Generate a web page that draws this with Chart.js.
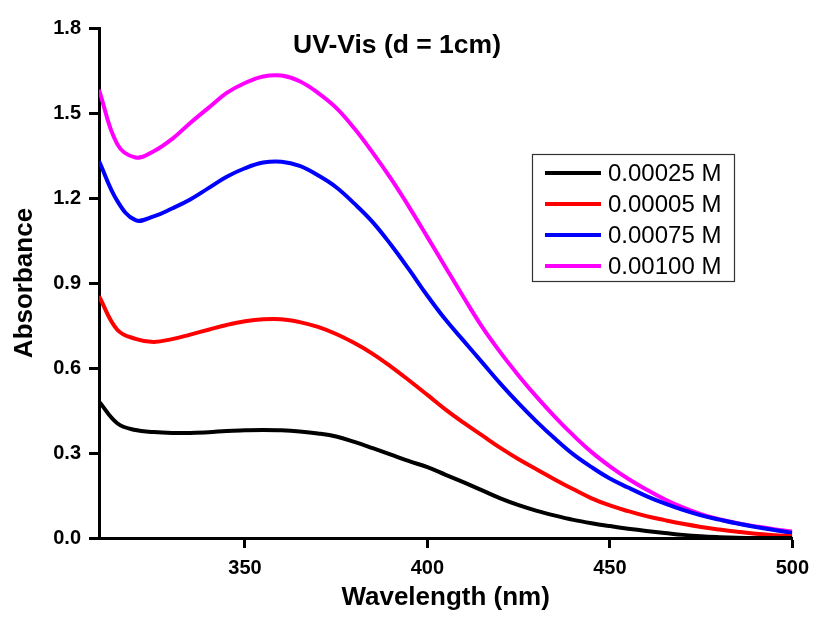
<!DOCTYPE html>
<html>
<head>
<meta charset="utf-8">
<title>UV-Vis (d = 1cm)</title>
<script src="https://cdn.jsdelivr.net/npm/chart.js@4.4.1/dist/chart.umd.min.js"></script>
<style>
  html, body { margin: 0; padding: 0; background: #ffffff; }
  #wrap { width: 817px; height: 617px; }
</style>
</head>
<body>
<div id="wrap"><canvas id="chart" width="817" height="617"></canvas></div>
<script>
// Wavelength grid (nm)
const wavelengths = [310,315,320,325,330,335,340,345,350,355,360,365,370,375,380,385,390,395,400,
                     405,410,415,420,425,430,435,440,445,450,455,460,465,470,475,480,485,490,495,500];

// Absorbance spectra for each concentration
const abs00025 = [0.482,0.405,0.381,0.374,0.371,0.371,0.373,0.378,0.380,0.381,0.380,0.376,0.369,0.358,0.339,0.317,0.294,0.271,0.250,
                  0.223,0.196,0.168,0.140,0.116,0.096,0.079,0.064,0.052,0.042,0.033,0.025,0.018,0.011,0.006,0.003,0.001,0.000,0.000,0.000];
const abs00005 = [0.853,0.735,0.703,0.692,0.702,0.718,0.735,0.752,0.765,0.772,0.772,0.762,0.745,0.720,0.688,0.650,0.605,0.556,0.505,
                  0.453,0.406,0.362,0.318,0.278,0.242,0.206,0.172,0.140,0.115,0.095,0.077,0.063,0.050,0.039,0.030,0.022,0.015,0.010,0.006];
const abs00075 = [1.330,1.190,1.122,1.135,1.163,1.195,1.235,1.275,1.305,1.325,1.328,1.313,1.280,1.238,1.180,1.115,1.035,0.947,0.855,
                  0.770,0.695,0.620,0.545,0.475,0.410,0.350,0.295,0.250,0.210,0.178,0.148,0.122,0.099,0.080,0.065,0.051,0.039,0.028,0.018];
const abs00100 = [1.582,1.390,1.343,1.365,1.408,1.465,1.518,1.571,1.606,1.629,1.632,1.612,1.571,1.518,1.445,1.360,1.268,1.168,1.062,
                  0.955,0.848,0.745,0.655,0.573,0.497,0.427,0.362,0.303,0.253,0.209,0.171,0.137,0.108,0.084,0.066,0.052,0.041,0.031,0.023];

const seriesLabels = ['0.00025 M', '0.00005 M', '0.00075 M', '0.00100 M'];
const xTicks = [350, 400, 450, 500];
const yTicks = [0.0, 0.3, 0.6, 0.9, 1.2, 1.5, 1.8];
const chartTitle = 'UV-Vis (d = 1cm)';

const seriesValues = [abs00025, abs00005, abs00075, abs00100];
const seriesColors = ['#000000', '#ff0000', '#0000ff', '#ff00ff'];

const FONT = "'Liberation Sans', Arial, Helvetica, sans-serif";

const datasets = seriesValues.map((vals, i) => ({
  label: seriesLabels[i],
  data: wavelengths.map((w, j) => ({ x: w, y: vals[j] })),
  borderColor: seriesColors[i],
  backgroundColor: seriesColors[i],
  borderWidth: 4,
  pointRadius: 0,
  fill: false,
  tension: 0.4
}));

// Draws the heading inside the plot and the boxed legend on the right
const overlayPlugin = {
  id: 'overlay',
  afterDraw(chart) {
    const ctx = chart.ctx;
    ctx.save();
    ctx.fillStyle = '#000';
    ctx.font = 'bold 26.5px ' + FONT;
    ctx.textAlign = 'center';
    ctx.textBaseline = 'middle';
    ctx.fillText(chartTitle, 397, 46);

    // legend box
    const bx = 532, by = 154, bw = 202, bh = 127;
    ctx.fillStyle = '#fff';
    ctx.fillRect(bx, by, bw, bh);
    ctx.strokeStyle = '#333';
    ctx.lineWidth = 1.2;
    ctx.strokeRect(bx + 0.5, by + 0.5, bw, bh);
    ctx.font = '24px ' + FONT;
    ctx.textAlign = 'left';
    chart.data.datasets.forEach((ds, i) => {
      const cy = by + 19 + i * 31;
      ctx.strokeStyle = ds.borderColor;
      ctx.lineWidth = 4;
      ctx.beginPath();
      ctx.moveTo(545, cy);
      ctx.lineTo(601, cy);
      ctx.stroke();
      ctx.fillStyle = '#000';
      ctx.fillText(ds.label, 608, cy + 1);
    });
    ctx.restore();
  }
};

new Chart(document.getElementById('chart'), {
  type: 'line',
  data: { datasets },
  plugins: [overlayPlugin],
  options: {
    responsive: false,
    animation: false,
    layout: { padding: { left: 0, right: 20, top: 28, bottom: 0 } },
    plugins: {
      legend: { display: false },
      tooltip: { enabled: false },
      title: { display: false }
    },
    scales: {
      x: {
        type: 'linear',
        min: 310,
        max: 500,
        afterBuildTicks(scale) { scale.ticks = xTicks.map(v => ({ value: v })); },
        afterFit(scale) { scale.height = 79; },
        border: { display: true, color: '#000', width: 3 },
        grid: { display: true, drawOnChartArea: false, drawTicks: true, tickLength: 10, tickWidth: 3, tickColor: '#000' },
        ticks: {
          color: '#000',
          padding: 8,
          maxRotation: 0,
          font: { family: FONT, size: 20, weight: 'bold' },
          callback: v => String(v)
        },
        title: {
          display: true,
          text: 'Wavelength (nm)',
          color: '#000',
          padding: { top: 0, bottom: 4 },
          font: { family: FONT, size: 26, weight: 'bold' }
        }
      },
      y: {
        type: 'linear',
        min: 0,
        max: 1.8,
        afterBuildTicks(scale) { scale.ticks = yTicks.map(v => ({ value: v })); },
        afterFit(scale) { scale.width = 99; },
        border: { display: true, color: '#000', width: 3 },
        grid: { display: true, drawOnChartArea: false, drawTicks: true, tickLength: 10, tickWidth: 3, tickColor: '#000' },
        ticks: {
          color: '#000',
          padding: 8,
          font: { family: FONT, size: 20, weight: 'bold' },
          callback: v => Number(v).toFixed(1)
        },
        title: {
          display: true,
          text: 'Absorbance',
          color: '#000',
          padding: { top: 9, bottom: 0 },
          font: { family: FONT, size: 26, weight: 'bold' }
        }
      }
    }
  }
});
</script>
</body>
</html>
